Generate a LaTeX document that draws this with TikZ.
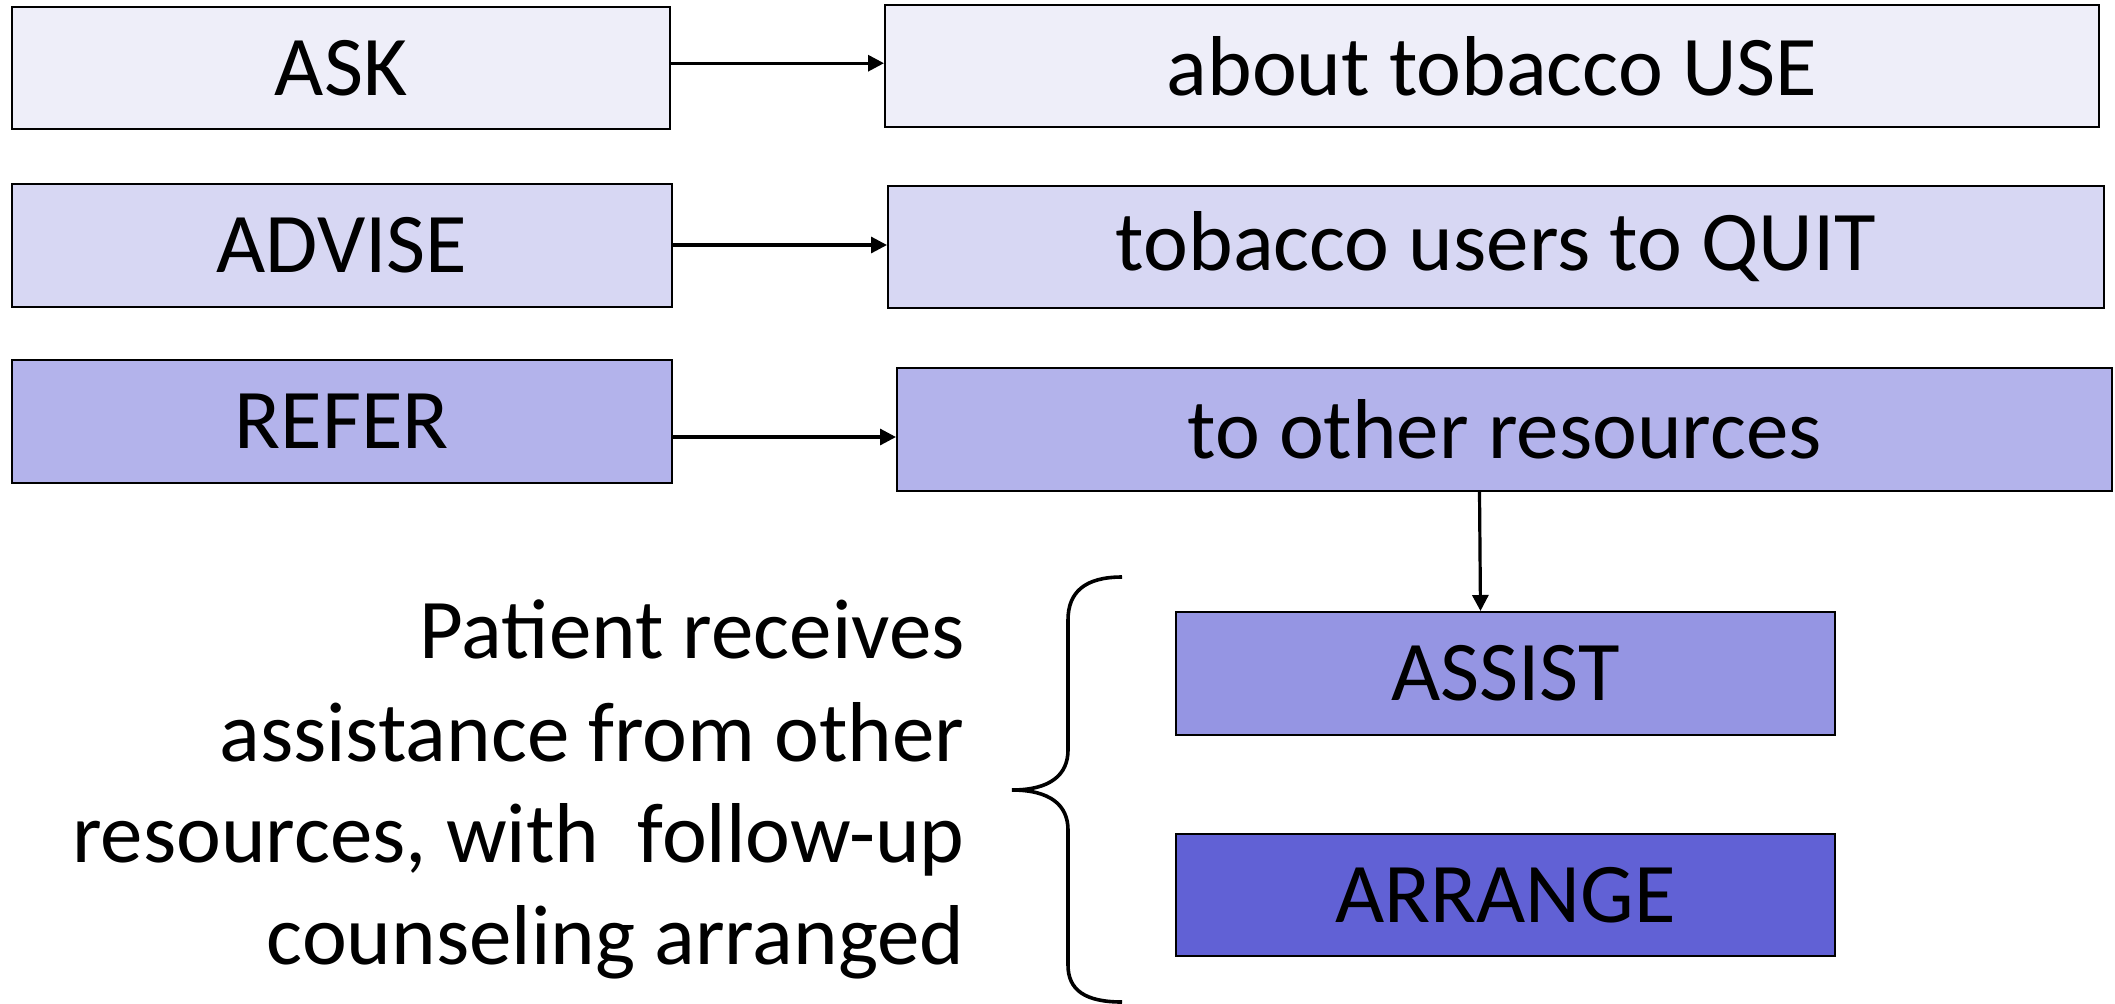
\documentclass[tikz,border=0pt]{standalone}
\usepackage{fontspec}
\setmainfont{Carlito}
\usetikzlibrary{arrows.meta}
\definecolor{cA}{HTML}{EEEEF9}
\definecolor{cB}{HTML}{D7D7F3}
\definecolor{cC}{HTML}{B3B3EB}
\definecolor{cD}{HTML}{9595E3}
\definecolor{cE}{HTML}{6161D5}
\tikzset{
  box/.style={draw=black, line width=1pt, rectangle, inner sep=0pt, font=\fontsize{42.5}{51}\selectfont},
  arr/.style={line width=1.6pt, -{Triangle[length=8pt,width=8pt]}},
  note/.style={inner sep=0pt, font=\fontsize{42.5}{51}\selectfont},
  bracepath/.style={line width=1.8pt}
}
\begin{document}
\begin{tikzpicture}[x=0.5pt,y=-0.5pt]
\useasboundingbox (0,0) rectangle (2115,1003);
% left column
\node[box, fill=cA, minimum width=329pt, minimum height=61pt] (ask) at (341,68) {ASK};
\node[box, fill=cB, minimum width=330pt, minimum height=61.5pt] (advise) at (342,245) {ADVISE};
\node[box, fill=cC, minimum width=330pt, minimum height=61.5pt] (refer) at (342,421) {REFER};
% right column
\node[box, fill=cA, minimum width=607pt, minimum height=61pt] (about) at (1492,66) {about tobacco USE};
\node[box, fill=cB, minimum width=608pt, minimum height=61pt] (quit) at (1496,247) {tobacco users to QUIT};
\node[box, fill=cC, minimum width=607.5pt, minimum height=61.5pt] (res) at (1504.5,429.5) {to other resources};
% lower boxes
\node[box, fill=cD, minimum width=329.5pt, minimum height=61.5pt] (assist) at (1505.5,673.5) {ASSIST};
\node[box, fill=cE, minimum width=329.5pt, minimum height=61pt] (arrange) at (1505.5,895) {ARRANGE};
% connectors
\draw[arr] ([yshift=2.4pt]ask.east) -- ([yshift=2.4pt]ask.east -| about.west);
\draw[arr] (advise.east) -- (advise.east -| quit.west);
\draw[arr] ([yshift=-8pt]refer.east) -- ([yshift=-8pt]refer.east -| res.west);
\draw[arr] ([xshift=-12.5pt]res.south) -- ([xshift=-12.5pt]assist.north);
% text
\node[note, anchor=base east] (t1) at (965,658) {Patient receives};
\node[note, anchor=base east] (t2) at (965,761) {assistance from other};
\node[note, anchor=base east] (t3) at (965,862) {resources, with\ \ follow-up};
\node[note, anchor=base east] (t4) at (965,964) {counseling arranged};
% brace
\draw[bracepath] (1122,577) .. controls (1085,577) and (1068,592) .. (1068,620)
  -- (1068,750) .. controls (1068,775) and (1050,790) .. (1012,790)
  .. controls (1050,790) and (1068,805) .. (1068,830)
  -- (1068,965) .. controls (1068,990) and (1085,1002) .. (1122,1002);
\end{tikzpicture}
\end{document}
